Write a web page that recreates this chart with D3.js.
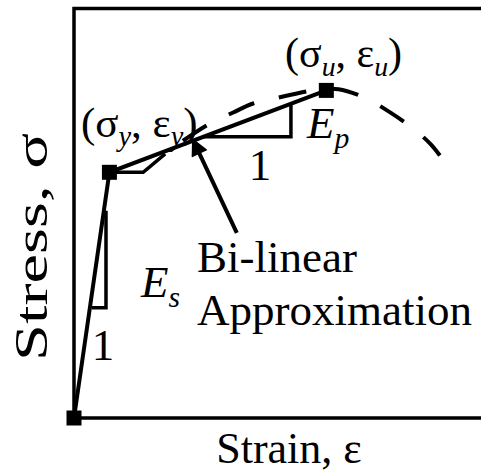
<!DOCTYPE html>
<html>
<head>
<meta charset="utf-8">
<script src="https://cdn.jsdelivr.net/npm/d3@7/dist/d3.min.js"></script>
<style>
  html, body { margin: 0; padding: 0; background: #fff; }
  svg { display: block; }
  text { font-family: "Liberation Serif", "Times New Roman", serif; fill: #000; }
</style>
</head>
<body>
<svg id="chart" width="481" height="475"></svg>
<script>
// Key points of the idealised stress-strain response (arbitrary units)
const pointNames = ["origin", "yield", "ultimate"];
const pointStrain = [0, 8.7, 62];
const pointStress = [0, 60, 80];

// Actual response beyond yield: short plateau, then hardening up to the peak and softening
const plateauStrain = [8.7, 17, 22.4];
const plateauStress = [60, 60, 64.5];
const curveStrain = [22.4, 26.8, 33.4, 39.1, 44.0, 51.4, 58.0, 62.0, 65.0, 71.5, 77.1, 83.3, 87.5, 89.9];
const curveStress = [64.5, 67.7, 71.9, 74.6, 76.8, 78.5, 79.9, 80.2, 80.3, 78.2, 75.0, 70.7, 67.0, 64.1];

// Slope triangles (strain, stress corners)
const esTriStrain = [7.86, 7.86, 4.4];
const esTriStress = [50.6, 26.9, 26.9];
const epTriStrain = [31.7, 53.3, 53.3];
const epTriStress = [68.7, 68.7, 76.8];

// Leader arrow for the bi-linear label: tail -> tip
const arrowStrain = [40.0, 29.2];
const arrowStress = [45.2, 68.0];

const x = d3.scaleLinear().domain([0, 100]).range([74, 481]);
const y = d3.scaleLinear().domain([0, 100]).range([418, 8.5]);

const svg = d3.select("#chart");
const line = d3.line().x(d => x(d[0])).y(d => y(d[1]));
const zip = (a, b) => a.map((v, i) => [v, b[i]]);

// Axes frame: left edge, top edge, bottom edge
svg.append("path")
  .attr("d", line([[100, 100], [0, 100], [0, 0], [100, 0]]))
  .attr("fill", "none").attr("stroke", "#000").attr("stroke-width", 3.5);

// Dashed actual curve
svg.append("path")
  .attr("d", d3.line().x(d => x(d[0])).y(d => y(d[1])).curve(d3.curveCatmullRom)(zip(curveStrain, curveStress)))
  .attr("fill", "none").attr("stroke", "#000").attr("stroke-width", 4)
  .attr("stroke-dasharray", "28,25").attr("stroke-dashoffset", 31);

// Yield plateau / start of hardening
svg.append("path")
  .attr("d", line(zip(plateauStrain, plateauStress)))
  .attr("fill", "none").attr("stroke", "#000").attr("stroke-width", 3.5)
  .attr("stroke-linejoin", "miter");

// Bi-linear approximation
svg.append("path")
  .attr("d", line(zip(pointStrain, pointStress)))
  .attr("fill", "none").attr("stroke", "#000").attr("stroke-width", 4)
  .attr("stroke-linejoin", "miter");

// Slope triangles
[[esTriStrain, esTriStress], [epTriStrain, epTriStress]].forEach(([s, t]) => {
  svg.append("path")
    .attr("d", line(zip(s, t)))
    .attr("fill", "none").attr("stroke", "#000").attr("stroke-width", 3.5)
    .attr("stroke-linejoin", "miter");
});

// Leader arrow
const defs = svg.append("defs");
defs.append("marker")
  .attr("id", "head").attr("viewBox", "0 0 10 10")
  .attr("refX", 9).attr("refY", 5)
  .attr("markerWidth", 5).attr("markerHeight", 4.4)
  .attr("orient", "auto").attr("markerUnits", "strokeWidth")
  .append("path").attr("d", "M0,0 L10,5 L0,10 Z").attr("fill", "#000");
svg.append("path")
  .attr("d", line(zip(arrowStrain, arrowStress)))
  .attr("fill", "none").attr("stroke", "#000").attr("stroke-width", 4)
  .attr("marker-end", "url(#head)");

// Square markers at the key points
svg.selectAll("rect.key")
  .data(pointNames.map((n, i) => ({ n, s: pointStrain[i], t: pointStress[i] })))
  .join("rect").attr("class", "key")
  .attr("x", d => x(d.s) - 7.5).attr("y", d => y(d.t) - 7.5)
  .attr("width", 15).attr("height", 15).attr("fill", "#000");

// Text labels
function label(px, py, parts, size, anchor) {
  const t = svg.append("text").attr("x", px).attr("y", py)
    .attr("font-size", size).attr("text-anchor", anchor || "start");
  parts.forEach(p => {
    const ts = t.append("tspan").text(p.t);
    if (p.i) ts.attr("font-style", "italic");
    if (p.sub) ts.attr("font-size", size * 0.66).attr("dy", size * 0.22);
    if (p.up) ts.attr("dy", -size * 0.22);
  });
  return t;
}

label(285, 67, [{ t: "(σ" }, { t: "u", i: 1, sub: 1 }, { t: ", ε", up: 1 }, { t: "u", i: 1, sub: 1 }, { t: ")", up: 1 }], 42);
label(81, 137, [{ t: "(σ" }, { t: "y", i: 1, sub: 1 }, { t: ", ε", up: 1 }, { t: "y", i: 1, sub: 1 }, { t: ")", up: 1 }], 43);
label(307, 138, [{ t: "E", i: 1 }, { t: "p", i: 1, sub: 1 }], 45);
label(141, 297, [{ t: "E", i: 1 }, { t: "s", i: 1, sub: 1 }], 45);
label(260, 180, [{ t: "1" }], 45, "middle");
label(103, 360, [{ t: "1" }], 45, "middle");
label(197, 272, [{ t: "Bi-linear" }], 45);
label(197, 325, [{ t: "Approximation" }], 45);
label(289, 463, [{ t: "Strain, ε" }], 44, "middle");

svg.append("text")
  .attr("transform", "translate(47,247) rotate(-90)")
  .attr("text-anchor", "middle").attr("font-size", 47)
  .attr("textLength", 228).attr("lengthAdjust", "spacingAndGlyphs")
  .text("Stress, σ");
</script>
</body>
</html>
